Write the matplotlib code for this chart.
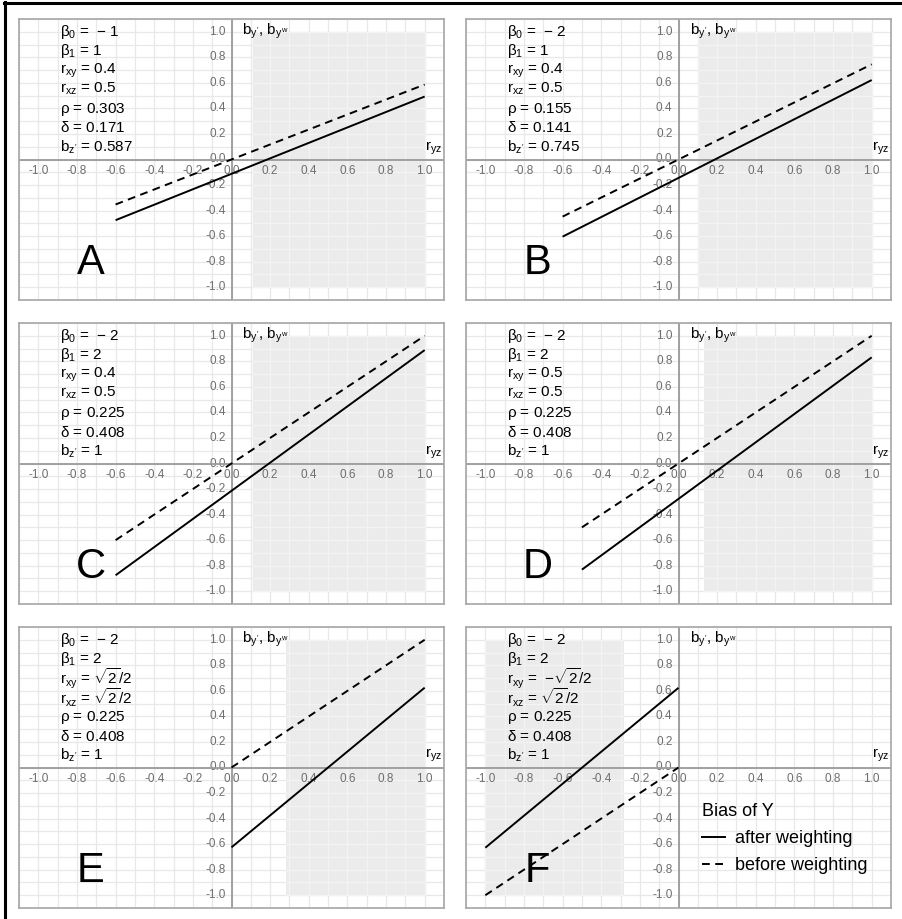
import matplotlib
matplotlib.use("Agg")
import matplotlib.pyplot as plt
from matplotlib.lines import Line2D
from matplotlib.patches import Rectangle

plt.rcParams['font.family'] = ['Liberation Sans', 'DejaVu Sans']
plt.rcParams['mathtext.fontset'] = 'custom'
plt.rcParams['mathtext.rm'] = 'Liberation Sans'
plt.rcParams['mathtext.it'] = 'Liberation Sans'
plt.rcParams['mathtext.bf'] = 'Liberation Sans:bold'
plt.rcParams['mathtext.sf'] = 'Liberation Sans'

# ---------------- data ----------------
panel_letters = ["A", "B", "C", "D", "E", "F"]

beta0 = ["\u2212 1", "\u2212 2", "\u2212 2", "\u2212 2", "\u2212 2", "\u2212 2"]
beta1 = ["1", "1", "2", "2", "2", "2"]
r_xy = ["0.4", "0.4", "0.4", "0.5", r"$\sqrt{2}/2$", "\u2212$\\sqrt{2}/2$"]
r_xz = ["0.5", "0.5", "0.5", "0.5", r"$\sqrt{2}/2$", r"$\sqrt{2}/2$"]
rho = ["0.303", "0.155", "0.225", "0.225", "0.225", "0.225"]
delta = ["0.171", "0.141", "0.408", "0.408", "0.408", "0.408"]
b_z = ["0.587", "0.745", "1", "1", "1", "1"]

# bias after weighting (solid)
after_x = [[-0.6, 1.0], [-0.6, 1.0], [-0.6, 1.0], [-0.5, 1.0], [0.0, 1.0], [-1.0, 0.0]]
after_y = [[-0.475, 0.493], [-0.604, 0.622], [-0.875, 0.888], [-0.831, 0.831],
           [-0.625, 0.625], [-0.628, 0.624]]
# bias before weighting (dashed)
before_x = [[-0.6, 1.0], [-0.6, 1.0], [-0.6, 1.0], [-0.5, 1.0], [0.0, 1.0], [-1.0, 0.0]]
before_y = [[-0.352, 0.587], [-0.447, 0.745], [-0.6, 1.0], [-0.5, 1.0],
            [0.0, 1.0], [-1.0, 0.0]]

# shaded region along r_yz
shade_x0 = [0.11, 0.10, 0.11, 0.13, 0.28, -1.0]
shade_x1 = [1.0, 1.0, 1.0, 1.0, 1.0, -0.28]
shade_y0 = -1.0
shade_y1 = 1.0

tick_values = [-1.0, -0.8, -0.6, -0.4, -0.2, 0.0, 0.2, 0.4, 0.6, 0.8, 1.0]
tick_labels = ["-1.0", "-0.8", "-0.6", "-0.4", "-0.2", "0.0", "0.2", "0.4", "0.6", "0.8", "1.0"]
grid_values = [round(-1.1 + 0.1 * i, 2) for i in range(23)]

legend_title = "Bias of Y"
legend_labels = ["after weighting", "before weighting"]

# ---------------- layout ----------------
W, H = 902, 919
fig = plt.figure(figsize=(W / 100, H / 100), dpi=100)

col_left = [19, 466]
panel_w = 425
row_top = [19, 323, 627]
panel_h = 281

LIM = 1.1
tick_color = "#6E6E6E"
axis_color = "#9A9A9A"
TXT = 11

for i in range(6):
    r, c = divmod(i, 2)
    left = col_left[c]
    top = row_top[r]
    ax = fig.add_axes([left / W, 1 - (top + panel_h) / H, panel_w / W, panel_h / H])
    ax.set_xlim(-LIM, LIM)
    ax.set_ylim(-LIM, LIM)
    ax.set_xticks([])
    ax.set_yticks([])
    for sp in ax.spines.values():
        sp.set_color("#A6A6A6")
        sp.set_linewidth(1.2)
        sp.set_zorder(10)

    pux = panel_w / (2 * LIM)
    puy = panel_h / (2 * LIM)

    # shade
    ax.add_patch(Rectangle((shade_x0[i], shade_y0), shade_x1[i] - shade_x0[i],
                           shade_y1 - shade_y0, facecolor="#EBEBEB",
                           edgecolor="none", zorder=0.5))
    # grid
    for g in grid_values:
        ax.axvline(g, color="#E8E8E8", lw=0.9, zorder=0.3)
        ax.axhline(g, color="#E8E8E8", lw=0.9, zorder=0.3)
    for g in grid_values:
        if shade_x0[i] - 1e-9 <= g <= shade_x1[i] + 1e-9:
            ax.plot([g, g], [shade_y0, shade_y1], color="#F3F3F3", lw=0.9, zorder=0.6)
    for g in grid_values:
        if shade_y0 - 1e-9 <= g <= shade_y1 + 1e-9:
            ax.plot([shade_x0[i], shade_x1[i]], [g, g], color="#F3F3F3", lw=0.9, zorder=0.6)

    # axes lines
    ax.axhline(0, color=axis_color, lw=1.3, zorder=2)
    ax.axvline(0, color=axis_color, lw=1.3, zorder=2)

    # tick labels
    for v, lab in zip(tick_values, tick_labels):
        ax.text(v, -11 / puy, lab, ha="center", va="center", fontsize=8.5,
                color=tick_color, zorder=1.5)
        ax.text(-6 / pux, v, lab, ha="right", va="center", fontsize=8.5,
                color=tick_color, zorder=1.5)

    # axis titles
    ax.text(11 / pux, 1.0, r"$b_{y'}$, $b_{y^w}$", ha="left", va="center",
            fontsize=TXT, zorder=3)
    ax.text(1.09, 3 / puy, r"$r_{yz}$", ha="right", va="bottom", fontsize=TXT, zorder=3)

    # lines
    ax.plot(after_x[i], after_y[i], color="black", lw=1.4, solid_capstyle="butt", zorder=4)
    ax.plot(before_x[i], before_y[i], color="black", lw=1.4, dashes=(4, 2.8), zorder=4)

    # parameter block
    lines = [
        r"$\beta_0$ =  " + beta0[i],
        r"$\beta_1$ = " + beta1[i],
        r"$r_{xy}$ = " + (" " + r_xy[i] if r_xy[i].startswith("\u2212") else r_xy[i]),
        r"$r_{xz}$ = " + r_xz[i],
        r"$\rho$ = " + rho[i],
        r"$\delta$ = " + delta[i],
        r"$b_{z'}$ = " + b_z[i],
    ]
    if i >= 4:
        baselines = [17, 36, 57.5, 77.5, 93.5, 114, 132.5]
    else:
        baselines = [17, 36, 55, 74, 93.5, 113.5, 132.5]
    xleft = -LIM + 41 / pux
    for txt, b in zip(lines, baselines):
        ax.text(xleft, LIM - b / puy, txt, ha="left", va="baseline", fontsize=TXT, zorder=3)

    # panel letter
    ax.text(-0.73, -0.81, panel_letters[i], ha="center", va="center", fontsize=30, zorder=3)

    if i == 5:
        handles = [Line2D([], [], color="black", lw=1.4),
                   Line2D([], [], color="black", lw=1.4, dashes=(4, 2.8))]
        leg = ax.legend(handles, legend_labels, title=legend_title, loc="upper left",
                        bbox_to_anchor=(702 / W, 1 - 803 / H), bbox_transform=fig.transFigure,
                        frameon=False, fontsize=13, title_fontsize=13,
                        handlelength=1.25, handletextpad=0.6, labelspacing=0.55,
                        borderpad=0, borderaxespad=0, alignment="left")
        leg.set_zorder(5)

# figure border (top and left)
fig.add_artist(Line2D([4 / W, 1], [1 - 2.8 / H, 1 - 2.8 / H], color="black", lw=2.2,
                      transform=fig.transFigure))
fig.add_artist(Line2D([5.2 / W, 5.2 / W], [0, 1 - 2 / H], color="black", lw=2.2,
                      transform=fig.transFigure))

fig.savefig("out.png", dpi=100)
